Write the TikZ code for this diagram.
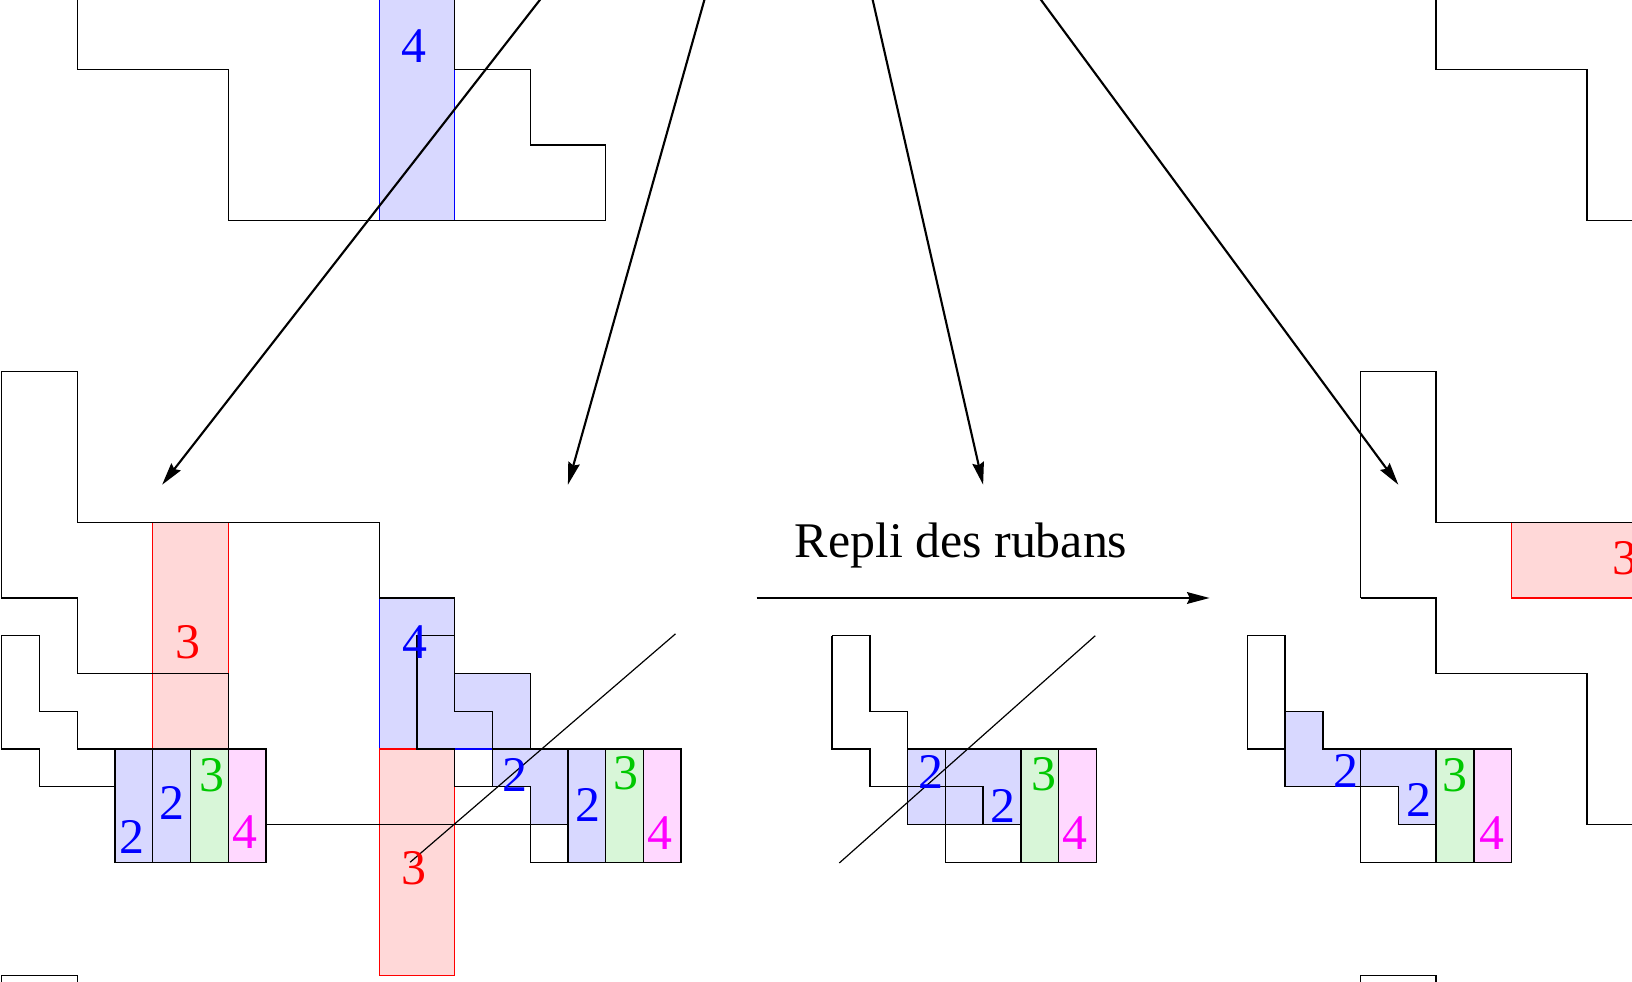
\documentclass[tikz,border=0pt]{standalone}
\usepackage{fontspec}
\setmainfont{Liberation Serif}
\usetikzlibrary{arrows.meta}
\definecolor{bfill}{RGB}{216,216,255}
\definecolor{rfill}{RGB}{255,216,216}
\definecolor{gfill}{RGB}{216,246,216}
\definecolor{mfill}{RGB}{255,216,255}
\definecolor{tblue}{RGB}{0,0,255}
\definecolor{tred}{RGB}{255,0,0}
\definecolor{tgreen}{RGB}{0,200,0}
\definecolor{tmag}{RGB}{255,0,255}
\begin{document}
\begin{tikzpicture}[x=0.5cm,y=-0.5cm,
  ol/.style={line width=0.5pt,black,line join=miter},
  cb/.style={line width=0.45pt},
  diag/.style={line width=0.45pt,black},
  arr/.style={line width=0.8pt,black,-{Stealth[length=8.5pt,width=4.4pt,inset=1pt]}},
  lab/.style={inner sep=0pt,font=\fontsize{18.8}{22}\selectfont},
  lb/.style={lab,text=tblue},
  lr/.style={lab,text=tred},
  lg/.style={lab,text=tgreen},
  lm/.style={lab,text=tmag}]
\useasboundingbox (-0.045,-0.842) rectangle (43.19,25.16);
\clip (-0.045,-0.842) rectangle (43.19,25.16);

% ---------- fills ----------
% figure A
\fill[bfill] (10,-3) rectangle (12,5);
\draw[cb,tblue] (10,-3) -- (10,5) (12,1) -- (12,5);
% figure B
\filldraw[cb,fill=rfill,draw=tred] (4,13) rectangle (6,19);
\filldraw[cb,fill=bfill,draw=tblue] (10,15) -- (12,15) -- (12,17) -- (14,17) -- (14,19) -- (10,19) -- cycle;
\filldraw[cb,fill=rfill,draw=tred] (10,19) rectangle (12,25);
\fill[bfill] (13,19) -- (16,19) -- (16,22) -- (15,22) -- (15,21) -- (14,21) -- (14,20) -- (13,20) -- cycle;
\fill[bfill] (3,19) rectangle (5,22);
\fill[gfill] (5,19) rectangle (6,22);
\fill[mfill] (6,19) rectangle (7,22);
\fill[gfill] (16,19) rectangle (17,22);
\fill[mfill] (17,19) rectangle (18,22);
% figure C
\fill[bfill] (24,19) rectangle (27,21);
\fill[gfill] (27,19) rectangle (28,22);
\fill[mfill] (28,19) rectangle (29,22);
% figure D
\filldraw[cb,fill=rfill,draw=tred] (40,13) rectangle (47,15);
\fill[bfill] (34,18) -- (35,18) -- (35,19) -- (38,19) -- (38,21) -- (37,21) -- (37,20) -- (34,20) -- cycle;
\fill[gfill] (38,19) rectangle (39,22);
\fill[mfill] (39,19) rectangle (40,22);

% ---------- black outlines ----------
% figure A
\draw[ol] (2,-3) -- (2,1) -- (6,1) -- (6,5) -- (16,5) -- (16,3) -- (14,3) -- (14,1) -- (12,1) -- (12,-3);
% figure A2
\draw[ol] (38,-3) -- (38,1) -- (42,1) -- (42,5) -- (45,5);
% figure B, left part
\draw[ol] (10,15) -- (10,13) -- (2,13) -- (2,9) -- (0,9) -- (0,15) -- (2,15) -- (2,17) -- (6,17) -- (6,19);
\draw[ol] (3,19) -- (2,19) -- (2,18) -- (1,18) -- (1,16) -- (0,16) -- (0,19) -- (1,19) -- (1,20) -- (3,20);
\draw[ol] (3,19) rectangle (7,22);
\draw[ol] (4,19) -- (4,22) (5,19) -- (5,22) (6,19) -- (6,22);
\draw[ol] (7,21) -- (15,21);
% figure B, middle part
\draw[ol] (10,15) -- (12,15) -- (12,18) -- (13,18) -- (13,20);
\draw[ol] (12,16) -- (11,16) -- (11,19) -- (12,19) -- (12,20) -- (14,20) -- (14,22) -- (18,22) -- (18,19) -- (13,19);
\draw[ol] (12,17) -- (14,17) -- (14,19);
\draw[ol] (15,19) -- (15,22) (16,19) -- (16,22) (17,19) -- (17,22);
% figure C
\draw[ol] (22,16) -- (23,16) -- (23,18) -- (24,18) -- (24,21) -- (27,21);
\draw[ol] (22,16) -- (22,19) -- (23,19) -- (23,20) -- (26,20) -- (26,21);
\draw[ol] (24,19) -- (29,19) -- (29,22) -- (25,22) -- (25,19);
\draw[ol] (27,19) -- (27,22) (28,19) -- (28,22);
% figure D
\draw[ol] (36,15) -- (36,9) -- (38,9) -- (38,13) -- (45,13);
\draw[ol] (36,15) -- (38,15) -- (38,17) -- (42,17) -- (42,21) -- (45,21);
\draw[ol] (33,16) -- (34,16) -- (34,20) -- (37,20) -- (37,21) -- (38,21);
\draw[ol] (33,16) -- (33,19) -- (34,19);
\draw[ol] (34,18) -- (35,18) -- (35,19) -- (40,19) -- (40,22) -- (36,22) -- (36,19);
\draw[ol] (38,19) -- (38,22) (39,19) -- (39,22);
% bottom fragments
\draw[ol] (0,27) -- (0,25) -- (2,25) -- (2,27);
\draw[ol] (36,27) -- (36,25) -- (38,25) -- (38,27);

% ---------- fold lines ----------
\coordinate (bd1) at (10.82,22.0);
\coordinate (bd2) at (17.85,15.95);
\coordinate (cd1) at (22.19,22.02);
\coordinate (cd2) at (28.97,16.0);
\draw[diag] (bd1) -- (bd2);
\draw[diag] (cd1) -- (cd2);

% ---------- labels ----------
\node[lb] (a4) at (10.93,0.37) {4};
\node[lr] (b3a) at (4.94,16.17) {3};
\node[lb] (b2a) at (3.45,21.33) {2};
\node[lb] (b2b) at (4.52,20.42) {2};
\node[lg] (b3b) at (5.58,19.70) {3};
\node[lm] (b4a) at (6.45,21.21) {4};
\node[lb] (b4b) at (10.94,16.17) {4};
\node[lr] (b3c) at (10.92,22.16) {3};
\node[lb] (b2c) at (13.60,19.70) {2};
\node[lb] (b2d) at (15.53,20.49) {2};
\node[lg] (b3d) at (16.54,19.64) {3};
\node[lm] (b4c) at (17.44,21.23) {4};
\node[lb] (c2a) at (24.61,19.62) {2};
\node[lb] (c2b) at (26.52,20.50) {2};
\node[lg] (c3) at (27.60,19.68) {3};
\node[lm] (c4) at (28.42,21.23) {4};
\node[lr] (d3a) at (43.00,13.94) {3};
\node[lb] (d2a) at (35.61,19.57) {2};
\node[lb] (d2b) at (37.55,20.36) {2};
\node[lg] (d3b) at (38.50,19.70) {3};
\node[lm] (d4) at (39.49,21.23) {4};

% ---------- arrows ----------
\coordinate (src) at (21.08,-9.6);
\coordinate (t1) at (4.25,12);
\coordinate (t2) at (15,12);
\coordinate (t3) at (26,12);
\coordinate (t4) at (37,12);
\draw[arr] (src) -- (t1);
\draw[arr] (src) -- (t2);
\draw[arr] (src) -- (t3);
\draw[arr] (src) -- (t4);
\coordinate (h1) at (20,15);
\coordinate (h2) at (32,15);
\draw[arr] (h1) -- (h2);
\node[lab,anchor=base west] (repli) at (21.0,13.94) {Repli des rubans};
\end{tikzpicture}
\end{document}
